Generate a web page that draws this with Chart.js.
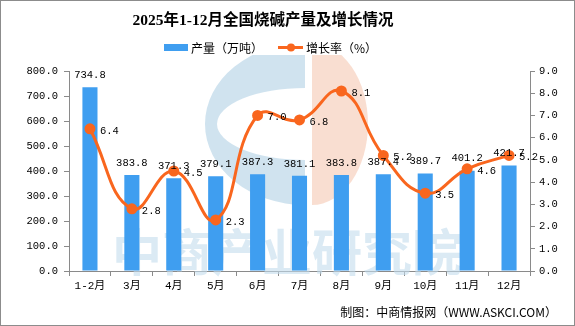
<!DOCTYPE html>
<html><head><meta charset="utf-8">
<script src="https://cdn.jsdelivr.net/npm/chart.js@4/dist/chart.umd.min.js"></script>
<style>html,body{margin:0;padding:0;background:#fff}#wrap{width:575px;height:326px;position:relative}</style>
</head><body><div id="wrap"><canvas id="c"></canvas></div>
<script>
const categories = ['1-2月','3月','4月','5月','6月','7月','8月','9月','10月','11月','12月'];
const output = [734.8, 383.8, 371.3, 379.1, 387.3, 381.1, 383.8, 387.4, 389.7, 401.2, 421.7];
const growth = [6.4, 2.8, 4.5, 2.3, 7.0, 6.8, 8.1, 5.2, 3.5, 4.6, 5.2];
const titleText = '2025年1-12月全国烧碱产量及增长情况';
const seriesNames = ['产量（万吨）', '增长率（%）'];
const footerText = '制图：中商情报网（WWW.ASKCI.COM）';
const watermarkText = '中商产业研究院';

const BAR = '#3F9EF0', LINE = '#F9661E', AX = '#8a8a8a';
const MONO = "'Liberation Mono', 'Noto Sans CJK SC', monospace";
const tickFont = {family: MONO, size: 10.5};

const decor = {
  id: 'decor',
  beforeDatasetsDraw(chart) {
    const ctx = chart.ctx;
    // logo watermark (blue C shape)
    ctx.save();
    ctx.beginPath(); ctx.rect(200, 55, 105, 160); ctx.clip();
    ctx.fillStyle = 'rgba(200,222,236,0.85)';
    ctx.beginPath();
    ctx.ellipse(305, 124, 100, 81, 0, 0, Math.PI * 2);
    ctx.ellipse(305, 124, 88, 36, 0, 0, Math.PI * 2, true);
    ctx.fill('evenodd');
    ctx.restore();
    // salmon half
    ctx.save();
    ctx.beginPath(); ctx.rect(312, 55, 70, 160); ctx.clip();
    ctx.fillStyle = 'rgba(247,214,198,0.8)';
    ctx.beginPath();
    ctx.ellipse(312, 124, 56, 81, 0, 0, Math.PI * 2);
    ctx.fill();
    ctx.restore();
    // text watermark
    ctx.save();
    ctx.font = "bold 50px 'Noto Sans CJK SC'";
    ctx.fillStyle = 'rgba(195,220,236,0.6)';
    ctx.textAlign = 'center'; ctx.textBaseline = 'middle';
    ctx.fillText(watermarkText, 287, 252);
    ctx.restore();
  },
  afterDraw(chart) {
    const ctx = chart.ctx; ctx.save();
    // title
    ctx.fillStyle = '#000';
    ctx.font = "bold 15.5px 'Liberation Serif', 'Noto Sans CJK SC'";
    ctx.textAlign = 'center'; ctx.textBaseline = 'middle';
    ctx.fillText(titleText, 263, 21);
    // legend
    ctx.fillStyle = BAR; ctx.fillRect(164, 44, 24, 7);
    ctx.font = "12px 'Noto Sans CJK SC'";
    ctx.fillStyle = '#000'; ctx.textAlign = 'left';
    ctx.fillText(seriesNames[0], 191, 48);
    ctx.strokeStyle = LINE; ctx.lineWidth = 3;
    ctx.beginPath(); ctx.moveTo(278, 47.5); ctx.lineTo(303, 47.5); ctx.stroke();
    ctx.fillStyle = LINE; ctx.beginPath(); ctx.arc(291, 47.5, 4, 0, Math.PI * 2); ctx.fill();
    ctx.fillStyle = '#000';
    ctx.fillText(seriesNames[1], 306, 48);
    // data labels
    ctx.font = "10.5px " + MONO;
    const mb = chart.getDatasetMeta(0);
    ctx.textAlign = 'center';
    mb.data.forEach((el, i) => ctx.fillText(output[i].toFixed(1), el.x, el.y - 12));
    const ml = chart.getDatasetMeta(1);
    ctx.textAlign = 'left';
    ml.data.forEach((el, i) => ctx.fillText(growth[i].toFixed(1), el.x + 10, el.y + 2));
    // footer
    ctx.font = "12px 'Noto Sans CJK SC', " + MONO;
    ctx.textAlign = 'right';
    ctx.fillText(footerText, 557, 312);
    // border
    ctx.strokeStyle = '#8c8c8c'; ctx.lineWidth = 1;
    ctx.strokeRect(0.5, 0.5, 574, 325);
    ctx.restore();
  }
};

new Chart(document.getElementById('c'), {
  data: {
    labels: categories,
    datasets: [
      {type: 'bar', label: seriesNames[0], data: output, backgroundColor: BAR, yAxisID: 'y',
       categoryPercentage: 1, barPercentage: 0.36, order: 1},
      {type: 'line', label: seriesNames[1], data: growth, borderColor: LINE, backgroundColor: LINE,
       borderWidth: 3, pointRadius: 4, pointHoverRadius: 4, tension: 0.45, yAxisID: 'y1', order: 0}
    ]
  },
  options: {
    responsive: true, maintainAspectRatio: false, animation: false,
    layout: {padding: {top: 71, left: 0, right: 0, bottom: 0}},
    plugins: {legend: {display: false}, title: {display: false}, tooltip: {enabled: false}},
    scales: {
      x: {
        grid: {offset: true, drawOnChartArea: false, drawTicks: true, tickLength: 5, color: AX},
        border: {display: true, color: AX},
        ticks: {color: '#000', font: {family: MONO, size: 11}, padding: 3, maxRotation: 0, autoSkip: false},
        afterFit(s) { s.height = 55; }
      },
      y: {
        position: 'left', min: 0, max: 800,
        grid: {drawOnChartArea: false, tickLength: 5, color: AX},
        border: {display: true, color: AX},
        ticks: {stepSize: 100, color: '#000', font: tickFont, padding: 6, callback: v => Number(v).toFixed(1)},
        afterFit(s) { s.width = 69; }
      },
      y1: {
        position: 'right', min: 0, max: 9,
        grid: {drawOnChartArea: false, tickLength: 5, color: AX},
        border: {display: true, color: AX},
        ticks: {stepSize: 1, color: '#000', font: tickFont, padding: 4, callback: v => Number(v).toFixed(1)},
        afterFit(s) { s.width = 45; }
      }
    }
  },
  plugins: [decor]
});
</script></body></html>
